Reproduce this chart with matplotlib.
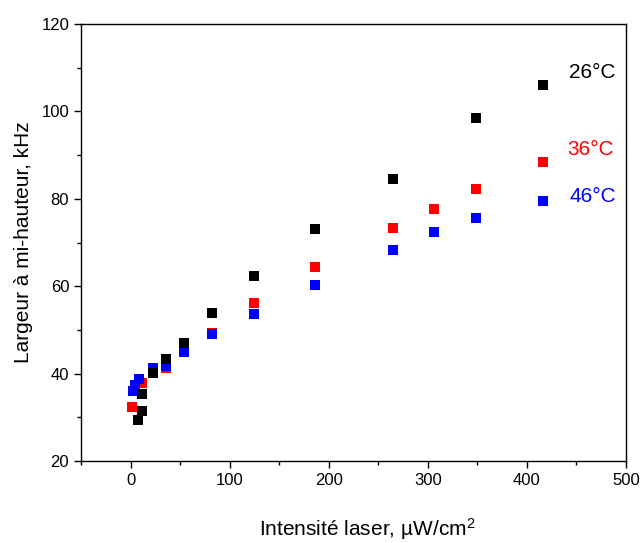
import matplotlib.pyplot as plt
from matplotlib.ticker import MultipleLocator

plt.rcParams['font.family'] = ['Liberation Sans', 'DejaVu Sans']
plt.rcParams['mathtext.default'] = 'regular'

# 26°C
x26 = [7.4, 11.8, 11.8, 22.5, 35.3, 53.8, 81.7, 125, 185.8, 264.4, 349, 416]
y26 = [29.4, 31.5, 35.3, 40.1, 43.3, 46.9, 53.9, 62.3, 73.1, 84.5, 98.5, 106.1]
# 36°C
x36 = [1.7, 12, 22.5, 35.3, 53.8, 81.7, 125, 185.8, 264.4, 305.8, 349, 416]
y36 = [32.4, 37.9, 40.3, 41.2, 45.5, 49.2, 56.1, 64.3, 73.3, 77.7, 82.3, 88.5]
# 46°C
x46 = [2.3, 4.4, 9, 22.5, 35.3, 53.8, 81.7, 125, 185.8, 264.4, 305.8, 349, 416]
y46 = [36.1, 37.4, 38.7, 41.2, 41.7, 44.9, 49.0, 53.6, 60.2, 68.3, 72.3, 75.7, 79.6]

fig = plt.figure(figsize=(6.4, 5.43), dpi=100)
ax = fig.add_axes([0.1266, 0.151, 0.8514, 0.8048])

ax.plot(x36, y36, 's', color='#ff0000', ms=7, mew=0, zorder=3)
ax.plot(x46, y46, 's', color='#0000ff', ms=7, mew=0, zorder=4)
ax.plot(x26, y26, 's', color='black', ms=7, mew=0, zorder=5)

ax.text(466.2, 108.8, '26°C', color='black', fontsize=15, ha='center', va='center')
ax.text(464.2, 91.2, '36°C', color='#ff0000', fontsize=15, ha='center', va='center')
ax.text(466.2, 80.5, '46°C', color='#0000ff', fontsize=15, ha='center', va='center')

ax.set_xlim(-50, 500)
ax.set_ylim(20, 120)
ax.xaxis.set_major_locator(MultipleLocator(100))
ax.xaxis.set_minor_locator(MultipleLocator(50))
ax.yaxis.set_major_locator(MultipleLocator(20))
ax.yaxis.set_minor_locator(MultipleLocator(10))
ax.tick_params(which='both', direction='out', top=False, right=False, labelsize=12)
ax.tick_params(which='major', length=5, width=1)
ax.tick_params(which='minor', length=3, width=1)
for s in ax.spines.values():
    s.set_linewidth(1)

ax.set_xlabel('Intensité laser, µW/cm$^2$', fontsize=15)
ax.xaxis.set_label_coords(0.525, -0.125)
ax.set_ylabel('Largeur à mi-hauteur, kHz', fontsize=15, labelpad=6)

fig.savefig('out.png', dpi=100)
